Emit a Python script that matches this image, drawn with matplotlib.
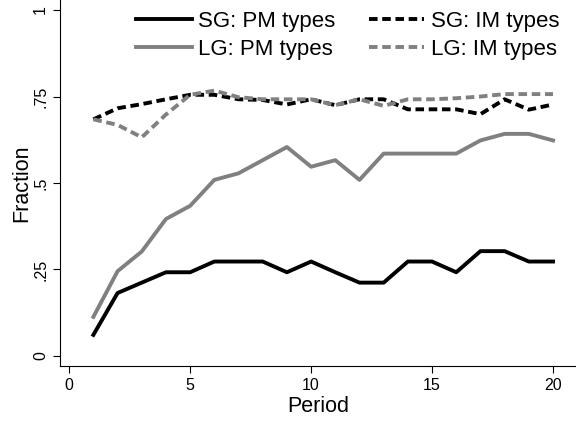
import numpy as np
import matplotlib
matplotlib.use("Agg")
import matplotlib.pyplot as plt

plt.rcParams.update({"font.family": ["Liberation Sans", "DejaVu Sans"]})

period = list(range(1, 21))
sg_pm = [0.061, 0.182, 0.212, 0.242, 0.242, 0.273, 0.273, 0.273, 0.242, 0.273,
         0.242, 0.212, 0.212, 0.273, 0.273, 0.242, 0.303, 0.303, 0.273, 0.273]
sg_im = [0.684, 0.716, 0.728, 0.742, 0.755, 0.755, 0.742, 0.740, 0.727, 0.742,
         0.725, 0.742, 0.742, 0.713, 0.713, 0.713, 0.699, 0.742, 0.712, 0.727]
lg_pm = [0.113, 0.245, 0.302, 0.396, 0.434, 0.509, 0.528, 0.566, 0.604, 0.547,
         0.566, 0.509, 0.585, 0.585, 0.585, 0.585, 0.623, 0.642, 0.642, 0.623]
lg_im = [0.684, 0.668, 0.632, 0.698, 0.755, 0.767, 0.748, 0.742, 0.742, 0.742,
         0.725, 0.742, 0.723, 0.742, 0.742, 0.745, 0.750, 0.757, 0.757, 0.757]

yticks = [0, 0.25, 0.5, 0.75, 1]
ylabels = ["0", ".25", ".5", ".75", "1"]
xticks = [0, 5, 10, 15, 20]

GRAY = "#808080"
LW = 2.8
DASH = (2.2, 1.2)

fig = plt.figure(figsize=(5.76, 4.21), dpi=100)
ax = fig.add_axes([60 / 576, 1 - 366 / 421, 1 - 60 / 576, 366 / 421])

l1, = ax.plot(period, sg_pm, color="black", lw=LW, label="SG: PM types")
l2, = ax.plot(period, sg_im, color="black", lw=LW, dashes=DASH, label="SG: IM types")
l3, = ax.plot(period, lg_pm, color=GRAY, lw=LW, label="LG: PM types")
l4, = ax.plot(period, lg_im, color=GRAY, lw=LW, dashes=DASH, label="LG: IM types")

ax.set_xlim(-0.38, 20.95)
ax.set_ylim(-0.029, 1.029)
ax.set_yticks(yticks)
ax.set_yticklabels(ylabels, rotation=90, va="center")
ax.set_xticks(xticks)
ax.tick_params(axis="both", labelsize=11.5, length=5, width=0.8)
ax.set_xlabel("Period", fontsize=15.5, labelpad=2)
ax.set_ylabel("Fraction", fontsize=15.5, labelpad=1)
ax.spines["top"].set_visible(False)
ax.spines["right"].set_visible(False)

# legend is filled row by row in the reference
ax.legend([l1, l3, l2, l4], [l.get_label() for l in (l1, l3, l2, l4)],
          ncol=2, loc="upper left", bbox_to_anchor=(136 / 576, 1 - 11 / 421),
          bbox_transform=fig.transFigure, frameon=False, fontsize=16,
          handlelength=2.5, handletextpad=0.3, columnspacing=1.5,
          labelspacing=0.32, borderpad=0, borderaxespad=0)

fig.savefig("out.png", dpi=100)
